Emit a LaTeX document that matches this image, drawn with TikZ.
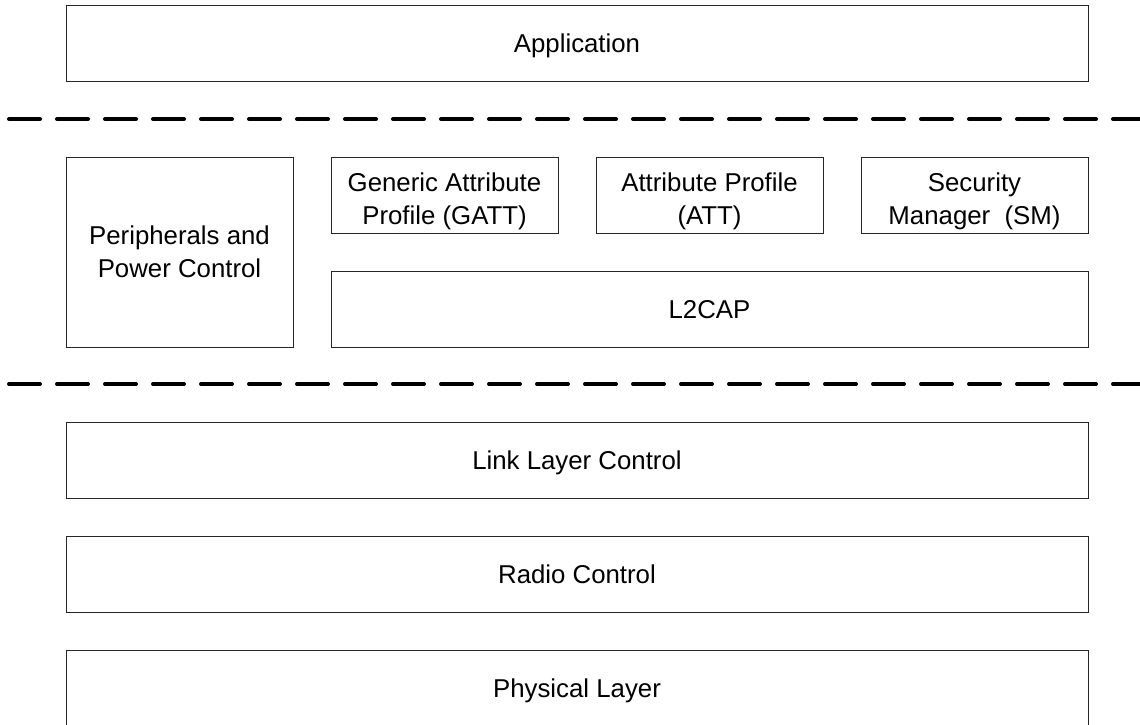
\documentclass[tikz,border=0pt]{standalone}
\usepackage{fontspec}
\setmainfont{Liberation Sans}

\begin{document}
\begin{tikzpicture}[
            x = 1pt, y = -1pt,
            every node/.style={font=\fontsize{25.8}{33}\selectfont, align=center, inner sep=0pt, text depth=0pt},
            layer/.style={draw=black!85, line width=1pt, minimum height=76pt},
            sep/.style={line width=4pt, line cap=round, dash pattern=on 31pt off 17pt},
            ]
        \useasboundingbox (0, 0) rectangle (1140, 725);

        \node[layer, minimum width=1022pt] (app) at (577, 43.5) {Application};

        \node[layer, minimum width=227pt, minimum height=190pt] (periph) at (179.5, 252) {Peripherals and\\Power Control};

        \foreach \n/\x/\t in {gatt/444.5/{Generic Attribute\\Profile (GATT)},
                              att/709.5/{Attribute Profile\\(ATT)},
                              sm/974.5/{Security\\Manager\ \ (SM)}}
            \node[layer, minimum width=227pt, label={[yshift=-4pt]center:\t}] (\n) at (\x, 195) {};

        \node[layer, minimum width=757pt] (l2cap) at (709.5, 309) {L2CAP};

        \foreach \n/\y/\t in {link/460/Link Layer Control, radio/574/Radio Control, phys/688/Physical Layer}
            \node[layer, minimum width=1022pt] (\n) at (577, \y) {\t};

        \coordinate (top l) at (9, 119);
        \coordinate (top r) at (1150, 119);
        \coordinate (mid l) at (9, 384);
        \coordinate (mid r) at (1150, 384);

        \draw[sep] (top l) -- (top r);
        \draw[sep] (mid l) -- (mid r);
    \end{tikzpicture}
\end{document}
